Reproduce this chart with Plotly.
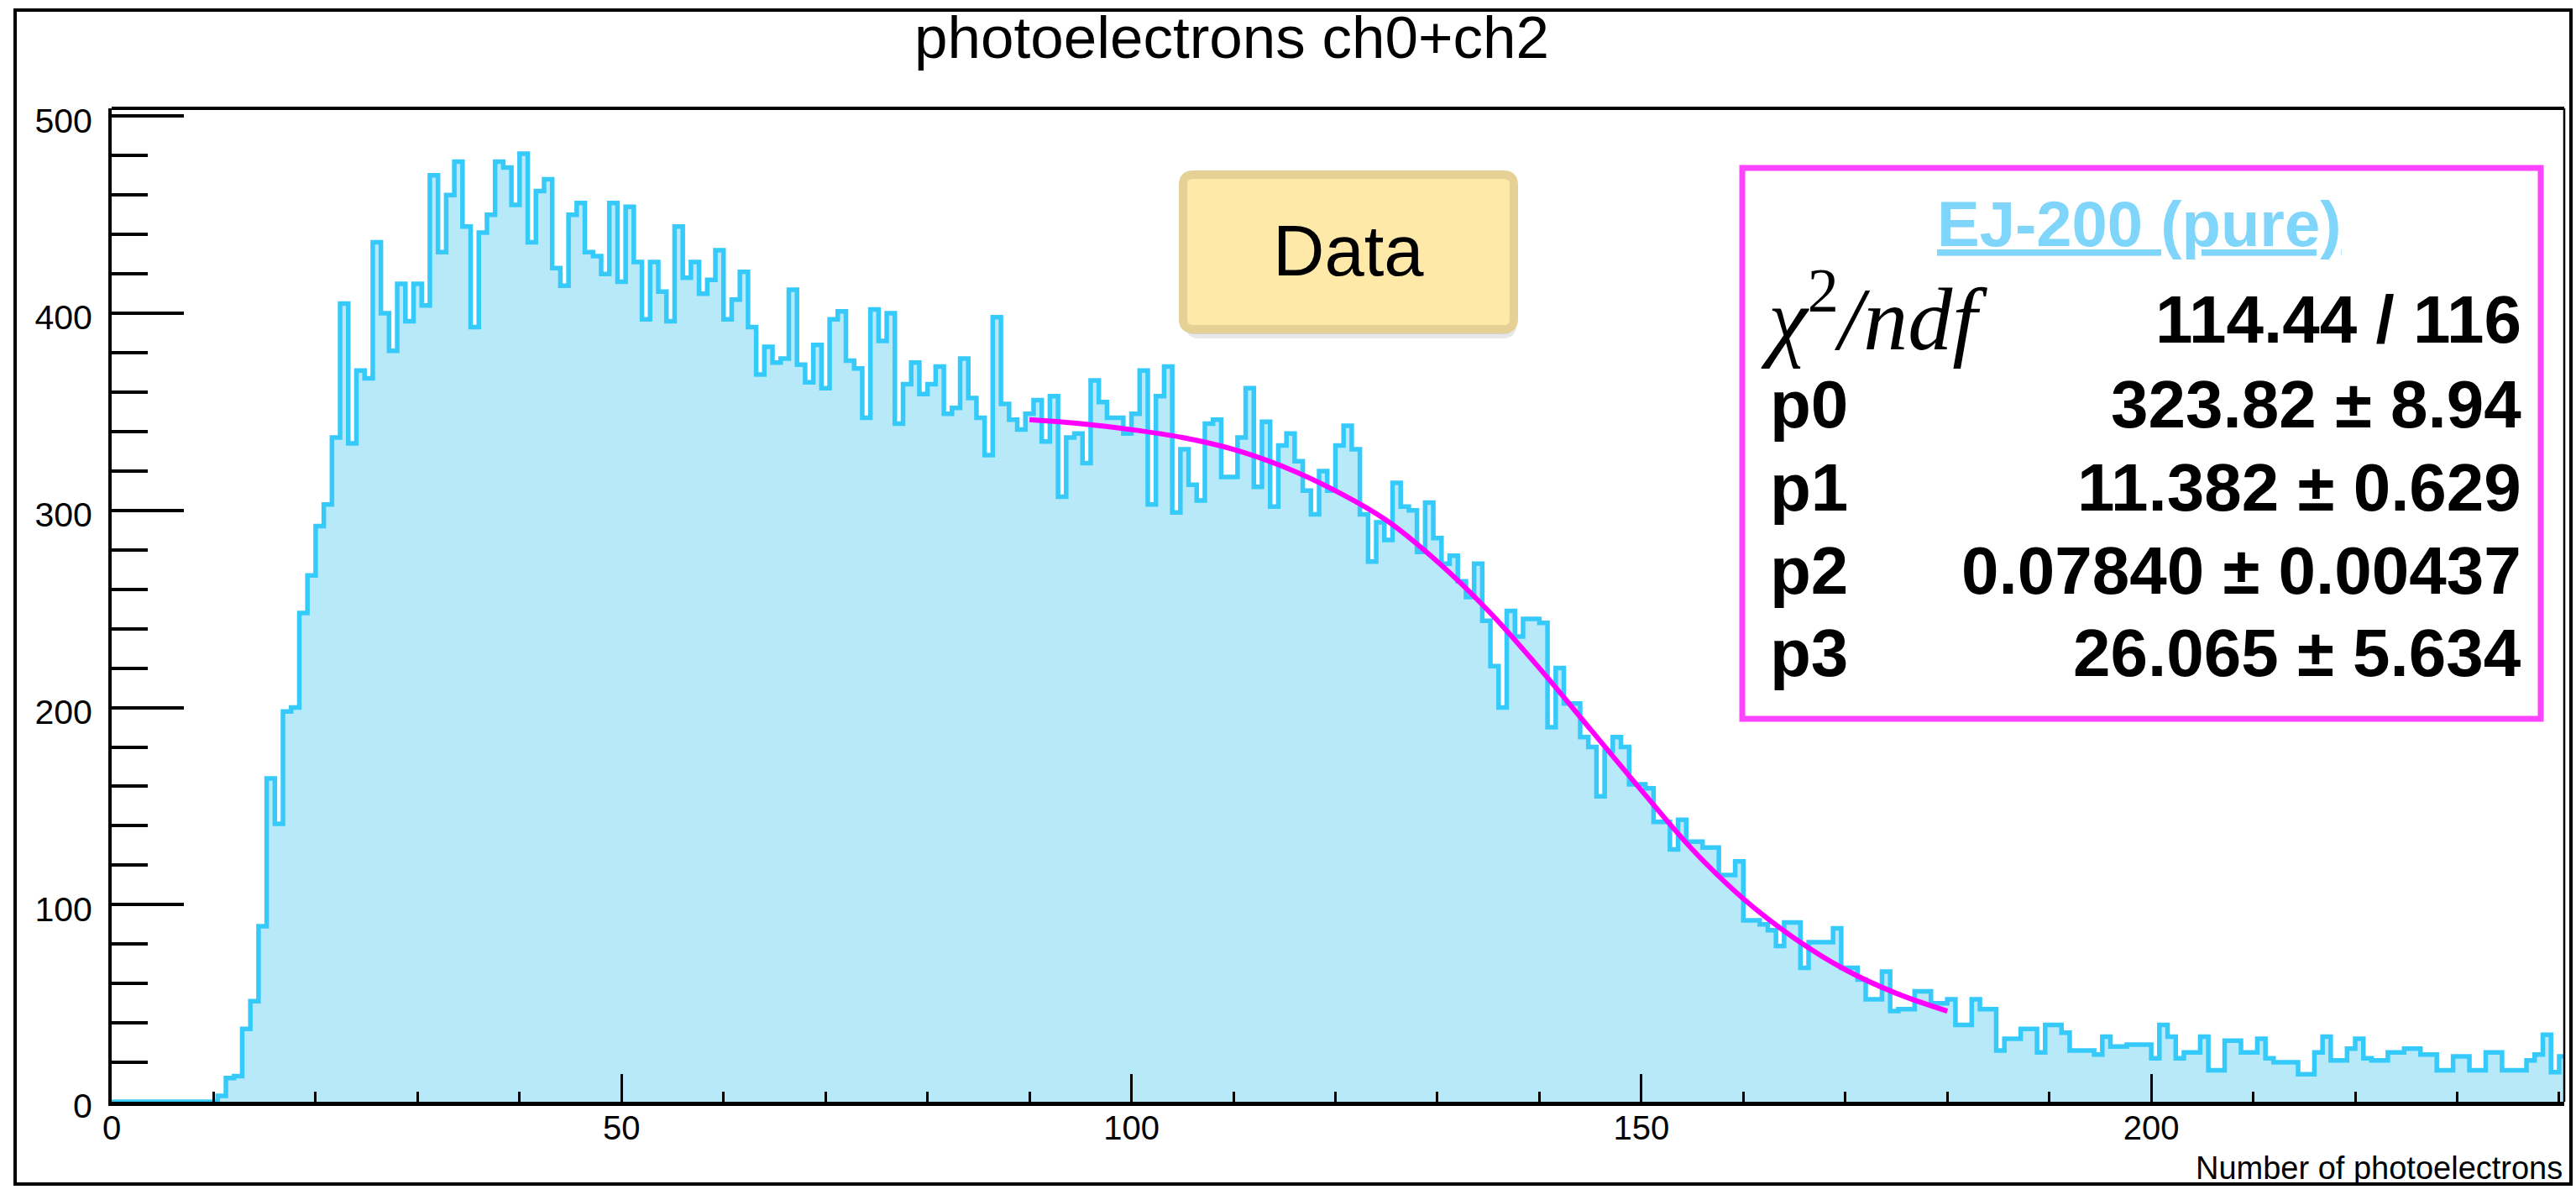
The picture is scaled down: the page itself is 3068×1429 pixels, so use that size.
import numpy as np
import plotly.graph_objects as go

# figure kept a little shorter than the window so the page never overflows
W, H = 3068, 1413

# ---------------- data ----------------
BIN_WIDTH = 0.8  # photoelectrons per bin, histogram starts at 0

counts_rise = [0, 0, 0, 0, 0, 0, 0, 0, 0, 0, 0, 0, 0, 3, 12, 13, 37, 51, 89, 164,
               141, 198, 200, 248, 267, 292, 303]
counts_peak = [337, 405, 334, 371, 367, 436, 400, 381, 415, 396, 415, 404, 470, 431, 460, 477,
               444, 393, 441, 450, 477, 474, 455, 481, 436, 462, 468, 423, 414, 450, 456, 431,
               429, 420, 456, 416, 454, 426, 397, 426, 411, 396, 444, 418, 426, 410, 417, 432,
               397, 407, 421, 393, 369, 383, 375, 377, 412, 374, 365, 384, 362, 397, 401]
counts_plateau = [376, 372, 347, 402, 386, 400, 344, 364, 375, 359, 364, 373, 349, 352, 377, 357,
                  347, 328, 398, 354, 346, 341, 349, 356, 335, 358, 307, 337, 339, 324, 366, 355,
                  347, 347, 339, 349, 371, 303, 358, 373, 299, 331, 313, 305, 344, 346, 317, 317,
                  337, 362, 312]
counts_fall = [345, 302, 333, 339, 325, 310, 298, 320, 310, 333, 343, 331, 298, 274, 294, 285,
               314, 302, 300, 279, 304, 286, 273, 277, 264, 256, 273, 244, 221, 200, 249, 236,
               245, 245, 243, 190, 220, 202, 202, 185, 180, 155, 178, 185, 180, 161, 161, 159,
               142, 142, 128, 143, 132, 132, 129, 129, 115, 115, 122, 92, 92, 90, 87, 79,
               91, 91, 68, 81, 81, 81, 88, 68, 68, 62, 52, 52, 66, 46, 47, 47,
               56, 56, 50, 50, 52, 39, 39, 52, 47, 47]
counts_tail = [26, 32, 32, 37, 37, 25, 39, 39, 35, 26, 26, 26, 24, 33, 28, 28,
               29, 29, 29, 22, 39, 33, 22, 25, 25, 33, 16, 16, 31, 31, 25, 25,
               32, 22, 20, 20, 20, 14, 14, 25, 33, 21, 21, 27, 32, 22, 21, 21,
               25, 25, 27, 27, 24, 24, 16, 16, 23, 23, 16, 16, 25, 25, 16, 16,
               16, 21, 24, 34, 15, 23]

counts = counts_rise + counts_peak + counts_plateau + counts_fall + counts_tail

# fit curve (magenta)
fit_x = [90, 95, 100, 105, 110, 115, 120, 125, 130, 135, 140, 145, 150, 155, 160, 165, 170, 175, 180]
fit_y = [346, 344, 341, 337, 331, 322, 310, 295, 274, 249, 220, 189, 158, 128, 103, 83, 67, 55, 46]

x_ticks = [0, 50, 100, 150, 200]
y_ticks = [0, 100, 200, 300, 400, 500]

stats_title = "EJ-200 (pure)"
stats_rows = [("p0", "323.82 ± 8.94"), ("p1", "11.382 ± 0.629"),
              ("p2", "0.07840 ± 0.00437"), ("p3", "26.065 ± 5.634")]
chi2_value = "114.44 / 116"


# ---------------- helpers (target-pixel -> paper) ----------------
def px(x):
    return min(max(x / W, 0.0005), 0.9995)


def py(y):
    return min(max(1 - y / H, 0.0005), 0.9995)


def rounded_rect(x0, y0, x1, y1, r):
    rx, ry = r / W, r / H
    X0, X1 = px(x0), px(x1)
    Y0, Y1 = py(y0), py(y1)  # Y0 top (larger), Y1 bottom
    return (f"M {X0+rx},{Y0} L {X1-rx},{Y0} Q {X1},{Y0} {X1},{Y0-ry} "
            f"L {X1},{Y1+ry} Q {X1},{Y1} {X1-rx},{Y1} L {X0+rx},{Y1} "
            f"Q {X0},{Y1} {X0},{Y1+ry} L {X0},{Y0-ry} Q {X0},{Y0} {X0+rx},{Y0} Z")


edges = np.arange(len(counts) + 1) * BIN_WIDTH
step_x = list(edges)
step_y = counts + [counts[-1]]

SANS = "Liberation Sans, Arial, Helvetica, sans-serif"
SERIF = "Liberation Serif, Times New Roman, serif"

fig = go.Figure()
fig.add_trace(go.Scatter(
    x=step_x, y=step_y, mode="lines",
    line=dict(shape="hv", color="#36CAFB", width=5.5),
    fill="tozeroy", fillcolor="#B8E9F9", hoverinfo="skip"))
fig.add_trace(go.Scatter(
    x=fit_x, y=fit_y, mode="lines",
    line=dict(color="#FF00FF", width=6, shape="spline"), hoverinfo="skip"))

X_L, X_R, Y_T, Y_B = 133, 3054, 129, 1312

fig.update_layout(
    width=W, height=H, margin=dict(l=0, r=0, t=0, b=0, autoexpand=False),
    paper_bgcolor="white", plot_bgcolor="white", showlegend=False,
    xaxis=dict(domain=[px(X_L), px(X_R)], range=[0, 240.5], showline=True,
               linecolor="black", linewidth=5, ticks="inside", ticklen=33,
               tickwidth=3, tickcolor="black", tickvals=x_ticks,
               ticktext=[str(v) for v in x_ticks], ticklabelstandoff=-8,
               tickfont=dict(family=SANS, size=40, color="black"),
               minor=dict(dtick=10, tick0=0, ticks="inside", ticklen=12,
                          tickwidth=3, tickcolor="black"),
               showgrid=False, zeroline=False, automargin=False),
    yaxis=dict(domain=[py(Y_B), py(Y_T)], range=[0, 504], showline=True,
               linecolor="black", linewidth=4, ticks="inside", ticklen=86,
               tickwidth=4, tickcolor="black", tickvals=y_ticks,
               ticktext=[str(v) for v in y_ticks], ticklabelstandoff=11,
               ticklabelshift=5,
               tickfont=dict(family=SANS, size=41, color="black"),
               minor=dict(dtick=20, tick0=0, ticks="inside", ticklen=43,
                          tickwidth=4, tickcolor="black"),
               showgrid=False, zeroline=False, automargin=False),
)

shapes = []
# plot frame top & right
shapes.append(dict(type="line", xref="paper", yref="paper", x0=px(X_L), x1=px(X_R),
                   y0=py(Y_T), y1=py(Y_T), line=dict(color="black", width=4)))
shapes.append(dict(type="line", xref="paper", yref="paper", x0=px(X_R), x1=px(X_R),
                   y0=py(Y_T), y1=py(Y_B), line=dict(color="black", width=2.5)))
# outer frame
shapes.append(dict(type="rect", xref="paper", yref="paper", x0=px(18), x1=px(3062),
                   y0=py(12), y1=py(1410), line=dict(color="black", width=4)))
# Data box shadow + box
shapes.append(dict(type="path", xref="paper", yref="paper",
                   path=rounded_rect(1412, 216, 1806, 403, 16),
                   fillcolor="rgba(0,0,0,0.09)", line=dict(width=0)))
shapes.append(dict(type="path", xref="paper", yref="paper",
                   path=rounded_rect(1410, 212, 1804, 398, 14),
                   fillcolor="rgba(0,0,0,0.10)", line=dict(width=0)))
shapes.append(dict(type="path", xref="paper", yref="paper",
                   path=rounded_rect(1409, 208, 1803, 392, 12),
                   fillcolor="#FFE9A9", line=dict(color="#E5D096", width=10)))
# stats box
shapes.append(dict(type="rect", xref="paper", yref="paper", x0=px(2075), x1=px(3026),
                   y0=py(200), y1=py(856), fillcolor="white",
                   line=dict(color="#FF44FF", width=7)))
fig.update_layout(shapes=shapes)

ann = []
ann.append(dict(text="photoelectrons ch0+ch2", x=px(1467), y=py(45), xref="paper",
                yref="paper", xanchor="center", yanchor="middle", showarrow=False,
                font=dict(family=SANS, size=71, color="black")))
ann.append(dict(text="Number of photoelectrons", x=px(3054), y=py(1391), xref="paper",
                yref="paper", xanchor="right", yanchor="middle", showarrow=False,
                font=dict(family=SANS, size=38, color="black")))
ann.append(dict(text="Data", x=px(1606), y=py(298), xref="paper", yref="paper",
                xanchor="center", yanchor="middle", showarrow=False,
                font=dict(family=SANS, size=85, color="black")))
ann.append(dict(text="<b><u>" + stats_title + "</u></b>", x=px(2548), y=py(266),
                xref="paper", yref="paper", xanchor="center", yanchor="middle",
                showarrow=False, font=dict(family=SANS, size=76, color="#7FD5FA")))
ann.append(dict(text="<i>χ</i><sup>2</sup><i>/ndf</i>", x=px(2095), y=py(372),
                xref="paper", yref="paper", xanchor="left", yanchor="middle",
                showarrow=False, font=dict(family=SERIF, size=106, color="black")))
ann.append(dict(text=chi2_value, x=px(3005), y=py(381), xref="paper", yref="paper",
                xanchor="right", yanchor="middle", showarrow=False,
                font=dict(family=SANS, size=80, color="black", weight="bold")))
row_y = [481, 580, 679, 777]
for (lab, val), yy in zip(stats_rows, row_y):
    ann.append(dict(text=lab, x=px(2106), y=py(yy), xref="paper", yref="paper",
                    xanchor="left", yanchor="middle", showarrow=False,
                    font=dict(family=SANS, size=80, color="black", weight="bold")))
    ann.append(dict(text=val, x=px(3005), y=py(yy), xref="paper", yref="paper",
                    xanchor="right", yanchor="middle", showarrow=False,
                    font=dict(family=SANS, size=80, color="black", weight="bold")))
fig.update_layout(annotations=ann)

fig.write_html("out.html")
